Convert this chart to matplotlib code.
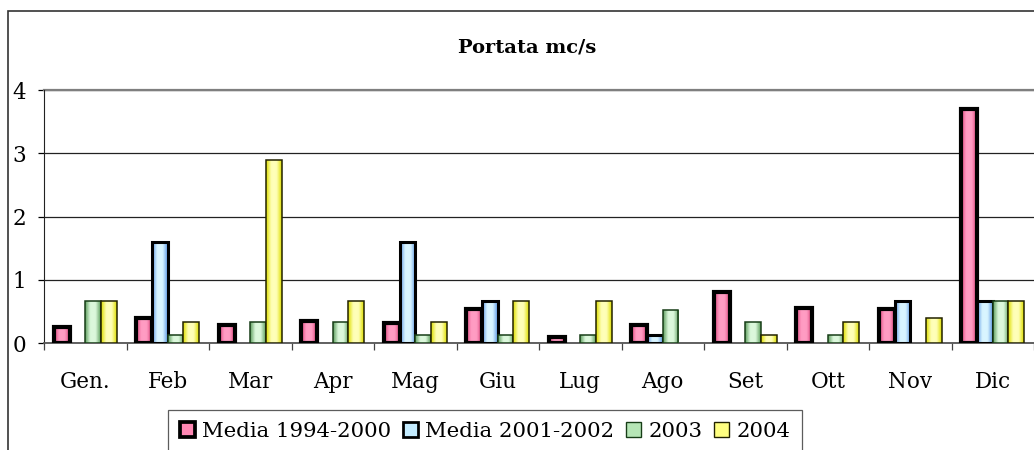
import numpy as np
import matplotlib
matplotlib.use("Agg")
import matplotlib.pyplot as plt
from matplotlib.colors import LinearSegmentedColormap
from matplotlib.patches import Rectangle, Patch

mesi = ["Gen.", "Feb", "Mar", "Apr", "Mag", "Giu", "Lug", "Ago", "Set", "Ott", "Nov", "Dic"]
media_94_00 = [0.25, 0.40, 0.28, 0.35, 0.32, 0.53, 0.10, 0.28, 0.80, 0.55, 0.53, 3.70]
media_01_02 = [0, 1.60, 0, 0, 1.60, 0.67, 0, 0.12, 0, 0, 0.67, 0.67]
anno_2003 = [0.67, 0.12, 0.33, 0.33, 0.12, 0.12, 0.12, 0.52, 0.33, 0.12, 0, 0.67]
anno_2004 = [0.67, 0.33, 2.90, 0.67, 0.33, 0.67, 0.67, 0, 0.12, 0.33, 0.40, 0.67]
serie_nomi = ["Media 1994-2000", "Media 2001-2002", "2003", "2004"]

# fill: (dark side, light centre), legend colour, edge colour, edge width
stili = [
    (("#e0457c", "#ff9cc3"), "#ff88b4", "black", 3.0),
    (("#5e98e6", "#d9f5ff"), "#c4ecff", "black", 2.2),
    (("#5e9e5e", "#dcf8dc"), "#b6e6b6", "#173d17", 1.1),
    (("#dede00", "#ffffb8"), "#ffff80", "#222200", 1.1),
]

plt.rcParams["font.family"] = ["DejaVu Serif"]

fig = plt.figure(figsize=(10.34, 4.5), dpi=100)
ax = fig.add_axes([44 / 1034, 1 - 343 / 450, 990 / 1034, 253 / 450])

x = np.arange(len(mesi))
w = 0.19
dati = [media_94_00, media_01_02, anno_2003, anno_2004]

for k, (valori, (colori, _, bordo, lw)) in enumerate(zip(dati, stili)):
    cmap = LinearSegmentedColormap.from_list("g", [colori[0], colori[1], colori[1], colori[0]])
    grad = np.linspace(0, 1, 64).reshape(1, -1)
    bars = ax.bar(x + (k - 1.5) * w, valori, w, facecolor="none", edgecolor=bordo,
                  linewidth=lw, zorder=4 + k)
    for b in bars:
        if b.get_height() <= 0:
            b.set_visible(False)
            continue
        x0, y0 = b.get_x(), b.get_y()
        im = ax.imshow(grad, cmap=cmap, aspect="auto", interpolation="bicubic",
                       extent=(x0, x0 + b.get_width(), y0, y0 + b.get_height()),
                       zorder=3.5 + k)
        im.set_clip_path(b)

ax.set_xlim(-0.5, len(mesi) - 0.5)
ax.set_ylim(0, 4)
ax.set_yticks([0, 1, 2, 3, 4])
ax.set_xticks(x)
ax.set_xticklabels(mesi, fontsize=15.5)
ax.set_xticks(np.arange(-0.5, len(mesi)), minor=True)
ax.tick_params(axis="x", which="major", length=0, pad=20)
ax.tick_params(axis="x", which="minor", length=5, width=0.9, color="#444444", direction="out")
ax.tick_params(axis="y", length=4, width=0.9, labelsize=15.5, pad=9)

ax.grid(axis="y", color="#222222", linewidth=0.9, zorder=0)
ax.set_axisbelow(True)
for s in ["right", "top"]:
    ax.spines[s].set_visible(False)
ax.spines["left"].set_color("#222222")
ax.spines["bottom"].set_color("#555555")
ax.spines["bottom"].set_linewidth(1.3)
ax.axhline(4, color="#7f7f7f", linewidth=1.6, zorder=1, clip_on=False)
ax.set_xlim(-0.5, len(mesi) - 0.5)

fig.text(527 / 1034, 1 - 47 / 450, "Portata mc/s", ha="center", va="center",
         fontsize=14, fontweight="bold")

# frame around the whole chart
fig.patches.append(Rectangle((8 / 1034, -0.2), 1.2, 0.2 + 1 - 11 / 450,
                             transform=fig.transFigure, fill=False,
                             edgecolor="#333333", linewidth=1.2))

maniglie = [Patch(facecolor=s[1], edgecolor=s[2], linewidth=s[3] * 0.9) for s in stili]
leg = fig.legend(maniglie, serie_nomi, ncol=4, loc="upper left",
                 bbox_to_anchor=(168 / 1034, 1 - 410 / 450), fontsize=15.3,
                 frameon=True, fancybox=False, borderaxespad=0,
                 handlelength=0.7, handleheight=0.7, handletextpad=0.35,
                 columnspacing=0.55, borderpad=0.55)
leg.get_frame().set_edgecolor("#333333")
leg.get_frame().set_linewidth(0.9)

fig.savefig("out.png", dpi=100)
